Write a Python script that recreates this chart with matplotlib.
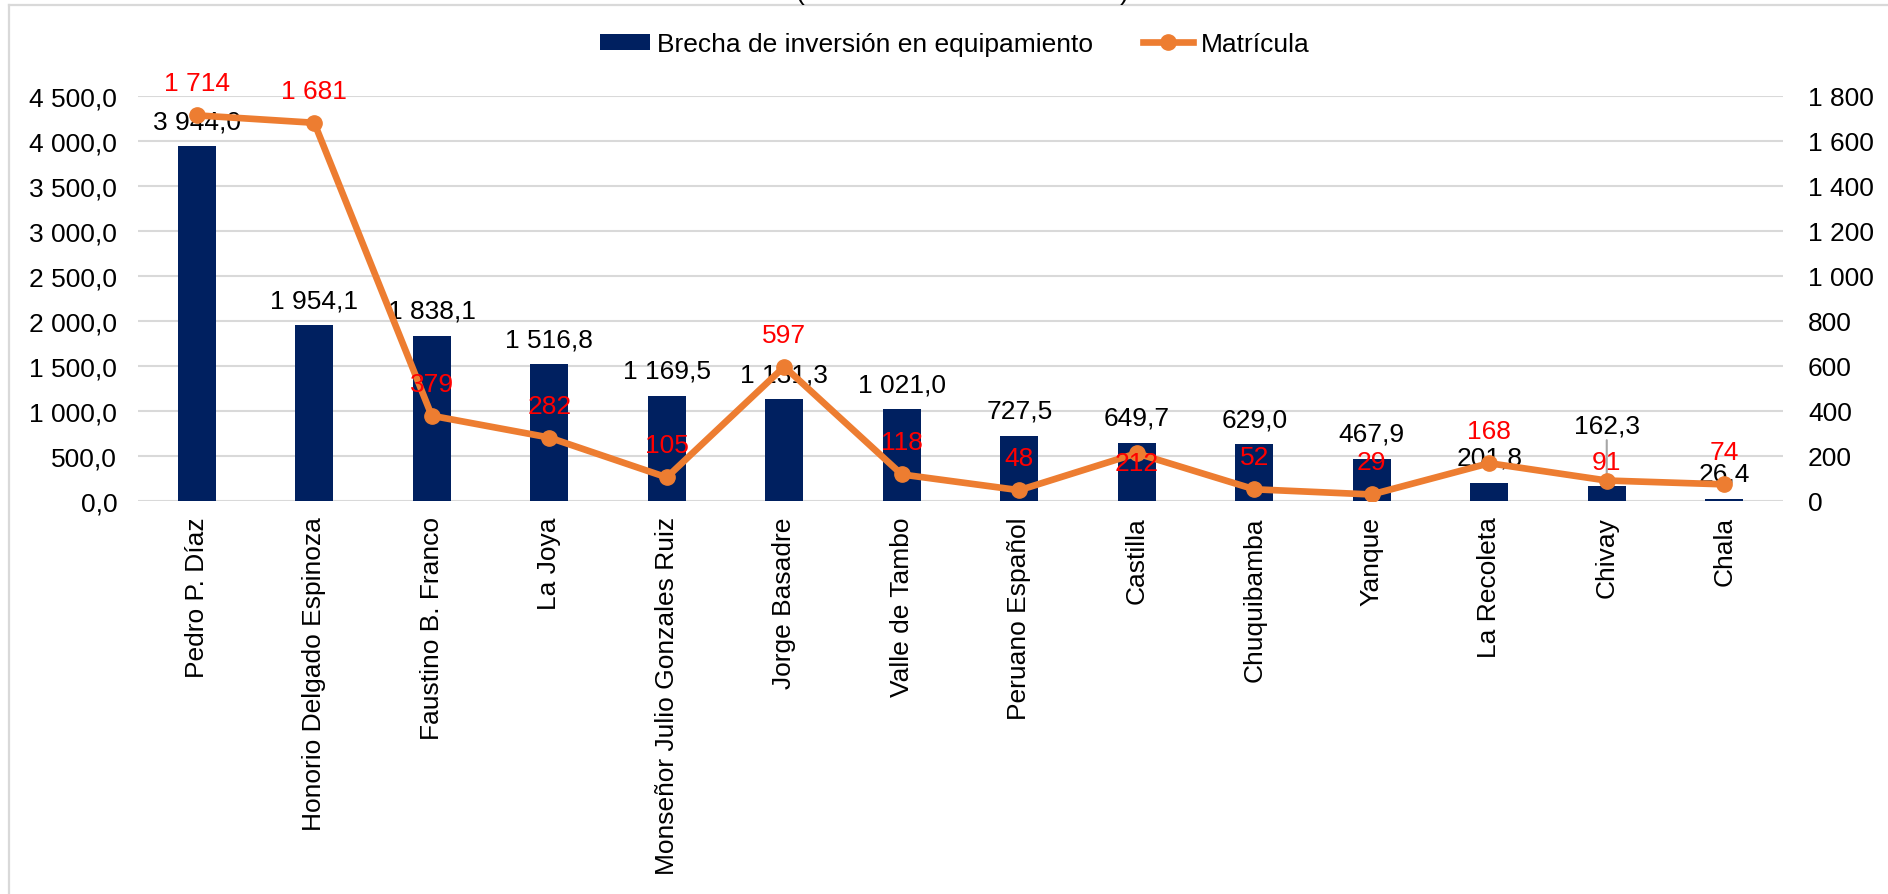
import matplotlib
matplotlib.use("Agg")
import matplotlib.pyplot as plt
from matplotlib.lines import Line2D
from matplotlib.patches import Patch

# ---------------- data ----------------
categories = [
    "Pedro P. Díaz", "Honorio Delgado Espinoza", "Faustino B. Franco", "La Joya",
    "Monseñor Julio Gonzales Ruiz", "Jorge Basadre", "Valle de Tambo",
    "Peruano Español", "Castilla", "Chuquibamba", "Yanque", "La Recoleta",
    "Chivay", "Chala",
]
brecha = [3944.0, 1954.1, 1838.1, 1516.8, 1169.5, 1131.3, 1021.0,
          727.5, 649.7, 629.0, 467.9, 201.8, 162.3, 26.4]
matricula = [1714, 1681, 379, 282, 105, 597, 118, 48, 212, 52, 29, 168, 91, 74]
left_ticks = [0, 500, 1000, 1500, 2000, 2500, 3000, 3500, 4000, 4500]
right_ticks = [0, 200, 400, 600, 800, 1000, 1200, 1400, 1600, 1800]
series_names = ["Brecha de inversión en equipamiento", "Matrícula"]

# ---------------- style ----------------
BAR_COLOR = "#002060"
LINE_COLOR = "#ED7D31"
GRID_COLOR = "#d9d9d9"
FS = 19
LW = 4.8
MS = 11
bar_label_offsets = [25] * len(categories)
bar_label_offsets[12] = 61          # Chivay label lifted with leader line
line_label_offsets = [32] * len(categories)
line_label_offsets[8] = -10         # Castilla
line_label_offsets[12] = 19         # Chivay

plt.rcParams["font.family"] = ["Liberation Sans", "DejaVu Sans"]


def fmt_left(v):
    return f"{v:,.1f}".replace(",", " ").replace(".", ",")


def fmt_right(v):
    return f"{v:,.0f}".replace(",", " ")


W, H = 1888, 895
fig = plt.figure(figsize=(W / 100, H / 100), dpi=100)
fig.patch.set_facecolor("white")

x0, x1, ytop, ybot = 138, 1783, 97, 502
ax = fig.add_axes([x0 / W, 1 - ybot / H, (x1 - x0) / W, (ybot - ytop) / H])
xs = list(range(len(categories)))

ax.bar(xs, brecha, width=0.32, color=BAR_COLOR, zorder=2)
ax.set_xlim(-0.5, len(categories) - 0.5)
ax.set_ylim(0, 4500)
ax.set_yticks(left_ticks)
ax.set_yticklabels([fmt_left(v) for v in left_ticks])
ax.set_xticks(xs)
ax.set_xticklabels(categories, rotation=90)
ax.grid(axis="y", color=GRID_COLOR, lw=1.5, zorder=0)
ax.set_axisbelow(True)
for s in ax.spines.values():
    s.set_visible(False)
ax.tick_params(axis="y", length=0, labelsize=FS, pad=15)
ax.tick_params(axis="x", length=0, labelsize=FS, pad=11)

for i, v in enumerate(brecha):
    kw = {}
    if bar_label_offsets[i] > 40:
        kw["arrowprops"] = dict(arrowstyle="-", color="#a6a6a6", lw=1.5,
                                shrinkA=0, shrinkB=0, relpos=(0.5, 0.0))
    ax.annotate(fmt_left(v), xy=(i, v), xytext=(0, bar_label_offsets[i]),
                textcoords="offset pixels", ha="center", va="center",
                fontsize=FS, color="black", zorder=3, **kw)

ax2 = ax.twinx()
ax2.plot(xs, matricula, color=LINE_COLOR, lw=LW, marker="o", ms=MS,
         solid_capstyle="round", solid_joinstyle="round", zorder=3)
ax2.set_ylim(0, 1800)
ax2.set_yticks(right_ticks)
ax2.set_yticklabels([fmt_right(v) for v in right_ticks])
for s in ax2.spines.values():
    s.set_visible(False)
ax2.tick_params(axis="y", length=0, labelsize=FS, pad=18)

for i, v in enumerate(matricula):
    ax2.annotate(fmt_right(v), xy=(i, v), xytext=(0, line_label_offsets[i]),
                 textcoords="offset pixels", ha="center", va="center",
                 fontsize=FS, color="#FF0000", zorder=4)

handles = [Patch(facecolor=BAR_COLOR, edgecolor="none"),
           Line2D([], [], color=LINE_COLOR, lw=LW, marker="o", ms=MS)]
fig.legend(handles, series_names, loc="center",
           bbox_to_anchor=(954.5 / W, 1 - 45 / H), ncol=2, frameon=False,
           fontsize=FS, handlelength=1.9, handleheight=0.57,
           handletextpad=0.27, columnspacing=1.9, borderpad=0,
           borderaxespad=0)

# cut-off title parentheses at the very top (as in the reference)
fig.text(800 / W, 1.0, "(", fontsize=FS, ha="center", va="baseline")
fig.text(1124 / W, 1.0, ")", fontsize=FS, ha="center", va="baseline")

# chart border (top and left edges visible)
fig.add_artist(Line2D([9 / W, 1.0], [1 - 6 / H, 1 - 6 / H],
                      transform=fig.transFigure, color=GRID_COLOR, lw=1.6))
fig.add_artist(Line2D([9 / W, 9 / W], [0.0, 1 - 6 / H],
                      transform=fig.transFigure, color=GRID_COLOR, lw=1.6))

fig.savefig("out.png", dpi=100)
